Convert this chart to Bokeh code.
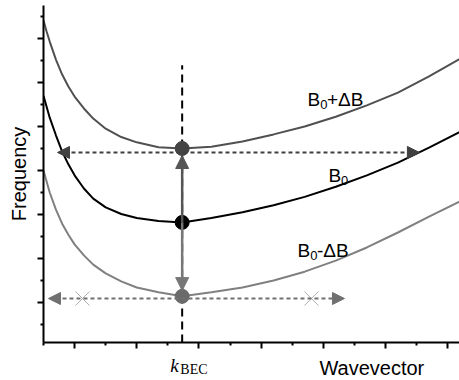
from bokeh.plotting import figure
from bokeh.layouts import column
from bokeh.models import Range1d, FixedTicker, Label, Arrow, NormalHead
from bokeh.embed import file_html
from bokeh.resources import INLINE

# wavevector samples (arbitrary units) and the three dispersion branches
k = [0.5, 0.55, 0.6, 0.7, 0.8, 0.9, 1.0, 1.15, 1.3, 1.5, 1.75, 2.0, 2.35, 2.73,
     3.2, 3.7, 4.2, 4.7, 5.2, 5.7, 6.2, 6.7, 7.2]
f_plus = [7.41, 7.16, 6.93, 6.52, 6.18, 5.91, 5.68, 5.41, 5.18, 4.95, 4.76, 4.64,
          4.53, 4.50, 4.54, 4.66, 4.82, 5.00, 5.22, 5.48, 5.77, 6.14, 6.54]
f_zero = [5.70, 5.45, 5.20, 4.80, 4.43, 4.14, 3.89, 3.59, 3.36, 3.16, 3.01, 2.92,
          2.85, 2.82, 2.92, 3.05, 3.21, 3.40, 3.63, 3.89, 4.18, 4.52, 4.88]
f_minus = [4.00, 3.75, 3.50, 3.11, 2.79, 2.54, 2.32, 2.07, 1.86, 1.66, 1.48, 1.34,
           1.23, 1.14, 1.23, 1.34, 1.50, 1.70, 1.95, 2.25, 2.59, 2.95, 3.30]
k_bec = 2.73
i_bec = k.index(k_bec)

# arrows / markers (data units)
upper_arrow = dict(k0=0.725, k1=6.545, f=4.41)
lower_arrow = dict(k0=0.58, k1=5.34, f=1.09)
cross_k = [1.127, 4.809]
cross_f = [1.09, 1.09]
up_tip = 4.34
down_tip = 1.27
dash_top = 6.39

x_major = [1, 2, 3, 4, 5, 6, 7]
x_minor = [0.5, 1.5, 2.5, 3.5, 4.5, 5.5, 6.5]
y_major = [1, 2, 3, 4, 5, 6, 7]
y_minor = [0.5, 1.5, 2.5, 3.5, 4.5, 5.5, 6.5, 7.5]

X0, X1 = 0.5, 7.19
Y0, Y1 = 0.09, 7.75
FONT = "Liberation Sans"

p = figure(width=459, height=352, output_backend="svg", toolbar_location=None,
           x_range=Range1d(X0, X1), y_range=Range1d(Y0, Y1),
           min_border_left=43, min_border_right=0, min_border_top=5,
           min_border_bottom=10)
p.outline_line_color = None
p.xgrid.visible = False
p.ygrid.visible = False

for ax, maj, mnr in ((p.xaxis[0], x_major, x_minor), (p.yaxis[0], y_major, y_minor)):
    ax.ticker = FixedTicker(ticks=maj, minor_ticks=mnr)
    ax.axis_line_width = 2
    ax.axis_line_color = "black"
    ax.major_tick_line_width = 2
    ax.minor_tick_line_width = 2
    ax.major_tick_in = 0
    ax.minor_tick_in = 0
    ax.major_tick_out = 6
    ax.minor_tick_out = 3
    ax.major_label_text_font_size = "0px"
    ax.major_label_text_color = None
    ax.major_label_standoff = 0

p.yaxis[0].axis_label = "Frequency"
p.yaxis[0].axis_label_text_font = FONT
p.yaxis[0].axis_label_text_font_size = "20px"
p.yaxis[0].axis_label_text_font_style = "normal"
p.yaxis[0].axis_label_text_color = "black"
p.yaxis[0].axis_label_standoff = 8

# vertical dashed line at k_BEC
p.segment(x0=[k_bec], y0=[Y0], x1=[k_bec], y1=[dash_top], line_color="black",
          line_width=2, line_dash="8 5")

# dispersion curves
p.line(k, f_plus, line_color="#505050", line_width=2)
p.line(k, f_zero, line_color="#000000", line_width=2)
p.line(k, f_minus, line_color="#808080", line_width=2)

# horizontal dashed double arrows
p.add_layout(Arrow(x_start=upper_arrow["k0"], y_start=upper_arrow["f"],
                   x_end=upper_arrow["k1"], y_end=upper_arrow["f"],
                   line_color="#404040", line_width=2, line_dash="4 3",
                   start=NormalHead(size=12, fill_color="#404040", line_color="#404040"),
                   end=NormalHead(size=12, fill_color="#404040", line_color="#404040")))
p.add_layout(Arrow(x_start=lower_arrow["k0"], y_start=lower_arrow["f"],
                   x_end=lower_arrow["k1"], y_end=lower_arrow["f"],
                   line_color="#707070", line_width=2, line_dash="4 3",
                   start=NormalHead(size=12, fill_color="#707070", line_color="#707070"),
                   end=NormalHead(size=12, fill_color="#707070", line_color="#707070")))

# crosses
p.scatter(cross_k, cross_f, marker="x", size=20, line_color="#b0b0b0", line_width=1)

# vertical arrows
p.add_layout(Arrow(x_start=k_bec, y_start=f_zero[i_bec], x_end=k_bec, y_end=up_tip,
                   line_color="#555555", line_width=2.5,
                   end=NormalHead(size=13, fill_color="#555555", line_color="#555555")))
p.add_layout(Arrow(x_start=k_bec, y_start=f_zero[i_bec], x_end=k_bec, y_end=down_tip,
                   line_color="#777777", line_width=2.5,
                   end=NormalHead(size=13, fill_color="#777777", line_color="#777777")))

# dots
p.scatter([k_bec], [f_plus[i_bec]], size=14, fill_color="#444444", line_color="#444444")
p.scatter([k_bec], [f_zero[i_bec]], size=14, fill_color="#000000", line_color="#000000")
p.scatter([k_bec], [f_minus[i_bec]], size=14, fill_color="#6a6a6a", line_color="#6a6a6a")


def lab(fig, x, y, t, size="19px", font=FONT, style="normal"):
    fig.add_layout(Label(x=x, y=y, text=t, text_font=font, text_font_size=size,
                         text_font_style=style, text_align="left",
                         text_baseline="alphabetic", text_color="black"))

# branch labels
lab(p, 4.744, 5.61, "B")
lab(p, 4.949, 5.50, "0", size="13px")
lab(p, 5.058, 5.61, "+\u0394B")
lab(p, 5.082, 3.89, "B")
lab(p, 5.286, 3.77, "0", size="13px")
lab(p, 4.584, 2.18, "B")
lab(p, 4.788, 2.07, "0", size="13px")
lab(p, 4.897, 2.18, "-\u0394B")

# strip below the axis holding the x-axis texts (same x scale)
pb = figure(width=459, height=28, output_backend="svg", toolbar_location=None,
            x_range=p.x_range, y_range=Range1d(0, 28),
            x_axis_type=None, y_axis_type=None,
            min_border_left=43, min_border_right=0, min_border_top=0,
            min_border_bottom=0)
pb.outline_line_color = None
pb.xgrid.visible = False
pb.ygrid.visible = False

lab(pb, 4.937, 13, "Wavevector", size="20px")
lab(pb, 2.54, 15, "k", size="19px", font="Liberation Serif", style="italic")
lab(pb, 2.70, 11, "BEC", size="14px", font="Liberation Serif")

layout = column(p, pb, spacing=0)
open("out.html", "w").write(file_html(layout, INLINE))
